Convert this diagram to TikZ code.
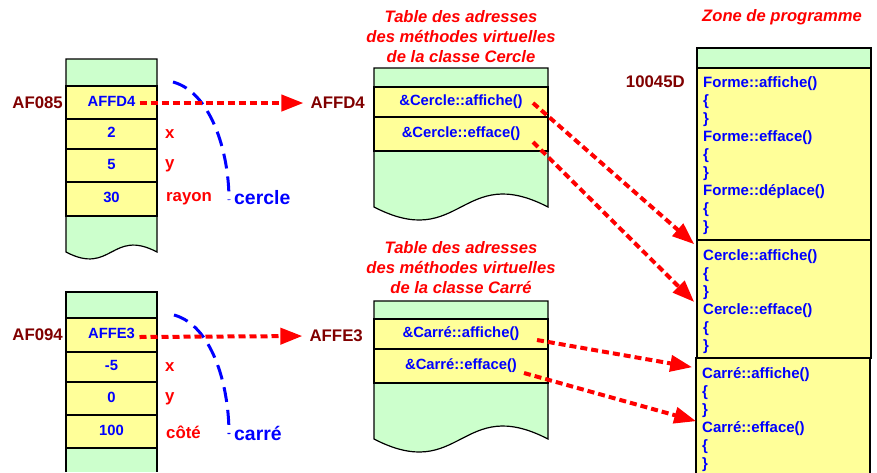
\documentclass[tikz,border=0pt]{standalone}
\usepackage{fontspec}
\setmainfont{Liberation Sans}
\usetikzlibrary{arrows.meta,calc}
\definecolor{lgreen}{HTML}{CCFFCC}
\definecolor{lyellow}{HTML}{FFFF99}
\definecolor{myblue}{HTML}{0000FF}
\definecolor{dred}{HTML}{800000}
\begin{document}
\begin{tikzpicture}[x=1pt,y=-1pt,
  cell/.style={draw=black, line width=1.2pt, fill=lyellow, inner sep=0pt, text=myblue,
    font=\fontsize{14.8}{17}\selectfont\bfseries, text height=10.5pt, text depth=3pt},
  lbl/.style={inner sep=0pt, font=\fontsize{16.8}{20}\selectfont\bfseries},
  addr/.style={lbl, text=dred},
  fld/.style={lbl, text=red},
  big/.style={inner sep=0pt, font=\fontsize{19.4}{22}\selectfont\bfseries, text=myblue},
  vtitle/.style={inner sep=0pt, align=center, font=\fontsize{16.6}{20}\selectfont\bfseries\itshape, text=red},
  codeline/.style={inner sep=0pt, anchor=west, font=\fontsize{15}{17}\selectfont\bfseries, text=myblue, text height=10.5pt, text depth=3pt},
  zonebox/.style={draw=black, line width=1.6pt, fill=lyellow, inner sep=0pt, minimum width=174pt},
  redarrow/.style={draw=red, line width=4pt, dash pattern=on 7pt off 4pt, -{Triangle[length=22pt,width=16pt]}},
  bluearc/.style={draw=myblue, line width=3pt, dash pattern=on 15pt off 8pt},
  frame/.style={draw=black, line width=1.2pt}
]
\useasboundingbox (0,0) rectangle (877,472);

% ---------- object cercle ----------
\path[frame, fill=lgreen] (66,252) -- (66,59) -- (157,59) -- (157,252)
  .. controls (111.5,228) and (111.5,276) .. (66,252) -- cycle;
\node[cell, minimum width=91pt, minimum height=33pt] (o1a) at (111.5,102.5) {AFFD4};
\node[cell, minimum width=91pt, minimum height=30pt] (o1b) at (111.5,134) {2};
\node[cell, minimum width=91pt, minimum height=33pt] (o1c) at (111.5,165.5) {5};
\node[cell, minimum width=91pt, minimum height=34pt] (o1d) at (111.5,199) {30};
\node[addr, anchor=east] (a1) at (63,103) {AF085};
\node[fld, anchor=west] (x1) at (165,134) {x};
\node[fld, anchor=west] (y1) at (165,166) {y};
\node[fld, anchor=west] (r1) at (166,199) {rayon};
\node[big, anchor=west] (n1) at (234,198) {cercle};
\draw[bluearc] (173,82) .. controls (210,92) and (229,150) .. (229,200);

% ---------- object carre ----------
\fill[lgreen] (66,292) rectangle (157,472);
\draw[frame] (66,472) -- (66,292) -- (157,292) -- (157,472);
\node[cell, minimum width=91pt, minimum height=34pt] (o2a) at (111.5,335) {AFFE3};
\node[cell, minimum width=91pt, minimum height=30pt] (o2b) at (111.5,367) {-5};
\node[cell, minimum width=91pt, minimum height=33pt] (o2c) at (111.5,398.5) {0};
\node[cell, minimum width=91pt, minimum height=33pt] (o2d) at (111.5,431.5) {100};
\node[addr, anchor=east] (a2) at (63,335) {AF094};
\node[fld, anchor=west] (x2) at (165,367) {x};
\node[fld, anchor=west] (y2) at (165,399) {y};
\node[fld, anchor=west] (r2) at (166,432) {côté};
\node[big, anchor=west] (n2) at (234,433) {carré};
\draw[bluearc] (174,315) .. controls (211,325) and (229,383) .. (229,434);

% ---------- vtable cercle ----------
\node[vtitle] (t1) at (461,37) {Table des adresses\\des méthodes virtuelles\\de la classe Cercle};
\path[frame, fill=lgreen] (374,207) -- (374,68) -- (548,68) -- (548,207)
  .. controls (461,162) and (461,252) .. (374,207) -- cycle;
\node[cell, minimum width=174pt, minimum height=30pt] (v1a) at (461,102) {\&Cercle::affiche()};
\node[cell, minimum width=174pt, minimum height=34pt] (v1b) at (461,134) {\&Cercle::efface()};
\node[addr, anchor=east] (m1) at (365,103) {AFFD4};

% ---------- vtable carre ----------
\node[vtitle] (t2) at (461,268) {Table des adresses\\des méthodes virtuelles\\de la classe Carré};
\path[frame, fill=lgreen] (374,439) -- (374,301) -- (548,301) -- (548,439)
  .. controls (461,394) and (461,484) .. (374,439) -- cycle;
\node[cell, minimum width=174pt, minimum height=30pt] (v2a) at (461,334) {\&Carré::affiche()};
\node[cell, minimum width=174pt, minimum height=34pt] (v2b) at (461,366) {\&Carré::efface()};
\node[addr, anchor=east] (m2) at (363,336) {AFFE3};

% ---------- zone de programme ----------
\node[vtitle] (zt) at (782,17) {Zone de programme};
\node[zonebox, fill=lgreen, minimum height=20pt] (pz) at (784,58) {};
\node[zonebox, minimum height=172pt] (pF) at (784,154) {};
\node[zonebox, minimum height=118pt] (pC) at (784,299) {};
\node[zonebox, minimum height=130pt] (pK) at (783,423) {};
\node[addr, anchor=east] (ad) at (685,82) {10045D};
\foreach \t [count=\i from 0] in {{Forme::affiche()},{\{},{\}},{Forme::efface()},{\{},{\}},{Forme::déplace()},{\{},{\}}}
  \node[codeline] (f\i) at (703,84+18*\i) {\t};
\foreach \t [count=\i from 0] in {{Cercle::affiche()},{\{},{\}},{Cercle::efface()},{\{},{\}}}
  \node[codeline] (c\i) at (703,257+18*\i) {\t};
\foreach \t [count=\i from 0] in {{Carré::affiche()},{\{},{\}},{Carré::efface()},{\{},{\}}}
  \node[codeline] (k\i) at (702,375+18*\i) {\t};

% ---------- arrows ----------
\draw[redarrow, shorten >=7pt] ($(o1a.center)+(28,0.5)$) -- (m1.west);
\draw[redarrow, shorten >=7pt] ($(o2a.center)+(28,2)$) -- (m2.west);
\draw[redarrow] ($(v1a.center)+(72,1)$) -- ($(pC.north west)+(-2,5)$);
\draw[redarrow] ($(v1b.center)+(72,8)$) -- ($(pC.west)+(-2,3)$);
\draw[redarrow] ($(v2a.center)+(76,6)$) -- ($(pK.north west)+(-3,10)$);
\draw[redarrow] ($(v2b.center)+(63,7)$) -- ($(pK.north west)+(1,64)$);
\end{tikzpicture}
\end{document}
